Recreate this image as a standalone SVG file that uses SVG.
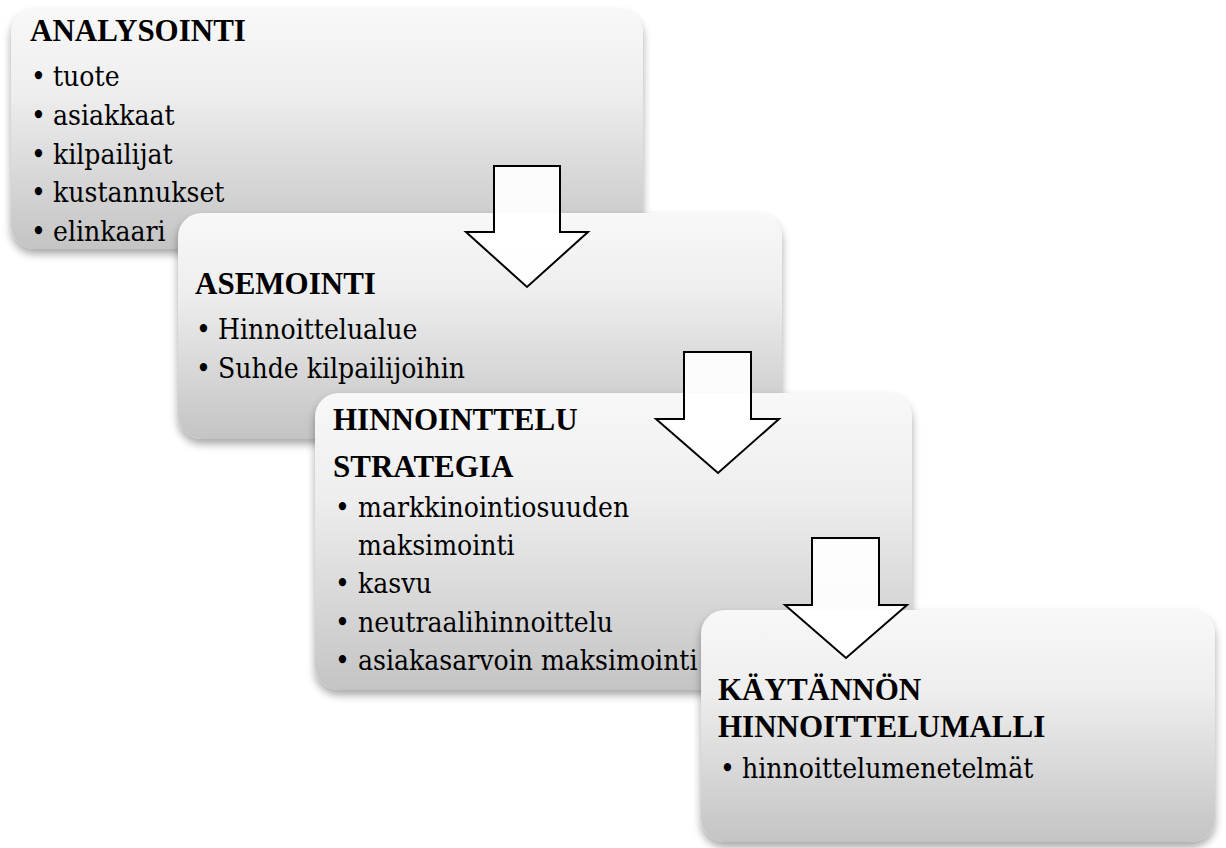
<svg xmlns="http://www.w3.org/2000/svg" width="1226" height="848" viewBox="0 0 1226 848">
  <style>
    .box { fill: url(#boxFill); filter: url(#shadow); }
    .head { font-family: "Liberation Serif", "Times New Roman", serif; font-size: 31px; font-weight: bold; fill: #000; }
    .item { font-family: "DejaVu Serif Condensed", "DejaVu Serif", serif; font-size: 28px; font-weight: 400; fill: #000; }
    .arrow { fill: #ffffff; fill-opacity: 0.92; stroke: #000; stroke-width: 2; stroke-linejoin: miter; }
  </style>
  <defs>
    <linearGradient id="boxFill" x1="0" y1="0" x2="0" y2="1">
      <stop offset="0" stop-color="#f8f8f8"/>
      <stop offset="0.35" stop-color="#eeeeee"/>
      <stop offset="1" stop-color="#c4c4c4"/>
    </linearGradient>
    <filter id="shadow" x="-5%" y="-5%" width="110%" height="115%">
      <feDropShadow dx="0" dy="5" stdDeviation="4" flood-color="#000" flood-opacity="0.35"/>
    </filter>
  </defs>

  <rect width="1226" height="848" fill="#ffffff"/>

  <!-- step 1 -->
  <g id="analysointi">
    <rect class="box" x="11" y="9" width="632" height="240" rx="24"/>
    <text class="head" x="30" y="41">ANALYSOINTI</text>
    <text class="item" x="31" y="86">• <tspan x="53">tuote</tspan></text>
    <text class="item" x="31" y="125">• <tspan x="53">asiakkaat</tspan></text>
    <text class="item" x="31" y="164">• <tspan x="53">kilpailijat</tspan></text>
    <text class="item" x="31" y="202">• <tspan x="53">kustannukset</tspan></text>
    <text class="item" x="31" y="241">• <tspan x="53">elinkaari</tspan></text>
  </g>

  <!-- step 2 -->
  <g id="asemointi">
    <rect class="box" x="178" y="213" width="604" height="226" rx="24"/>
    <text class="head" x="195" y="294">ASEMOINTI</text>
    <text class="item" x="196" y="339">• <tspan x="218">Hinnoittelualue</tspan></text>
    <text class="item" x="196" y="378">• <tspan x="218">Suhde kilpailijoihin</tspan></text>
  </g>

  <!-- step 3 -->
  <g id="strategia">
    <rect class="box" x="315" y="393" width="597" height="297" rx="24"/>
    <text class="head" x="333" y="430">HINNOINTTELU</text>
    <text class="head" x="333" y="477">STRATEGIA</text>
    <text class="item" x="335" y="517">• <tspan x="358">markkinointiosuuden</tspan></text>
    <text class="item" x="358" y="555">maksimointi</text>
    <text class="item" x="335" y="593">• <tspan x="358">kasvu</tspan></text>
    <text class="item" x="335" y="632">• <tspan x="358">neutraalihinnoittelu</tspan></text>
    <text class="item" x="335" y="670">• <tspan x="358">asiakasarvoin maksimointi</tspan></text>
  </g>

  <!-- step 4 -->
  <g id="hinnoittelumalli">
    <rect class="box" x="701" y="610" width="514" height="232" rx="24"/>
    <text class="head" x="718" y="700">KÄYTÄNNÖN</text>
    <text class="head" x="718" y="737">HINNOITTELUMALLI</text>
    <text class="item" x="720" y="778">• <tspan x="742">hinnoittelumenetelmät</tspan></text>
  </g>

  <!-- block arrows between steps -->
  <g id="connectors">
    <path class="arrow" d="M494,166 H560 V232 H588 L527,287 L466,232 H494 Z"/>
    <path class="arrow" d="M684,352 H751 V419 H779 L718,473 L656,419 H684 Z"/>
    <path class="arrow" d="M812,538 H879 V605 H907 L846,658 L785,605 H812 Z"/>
  </g>
</svg>
